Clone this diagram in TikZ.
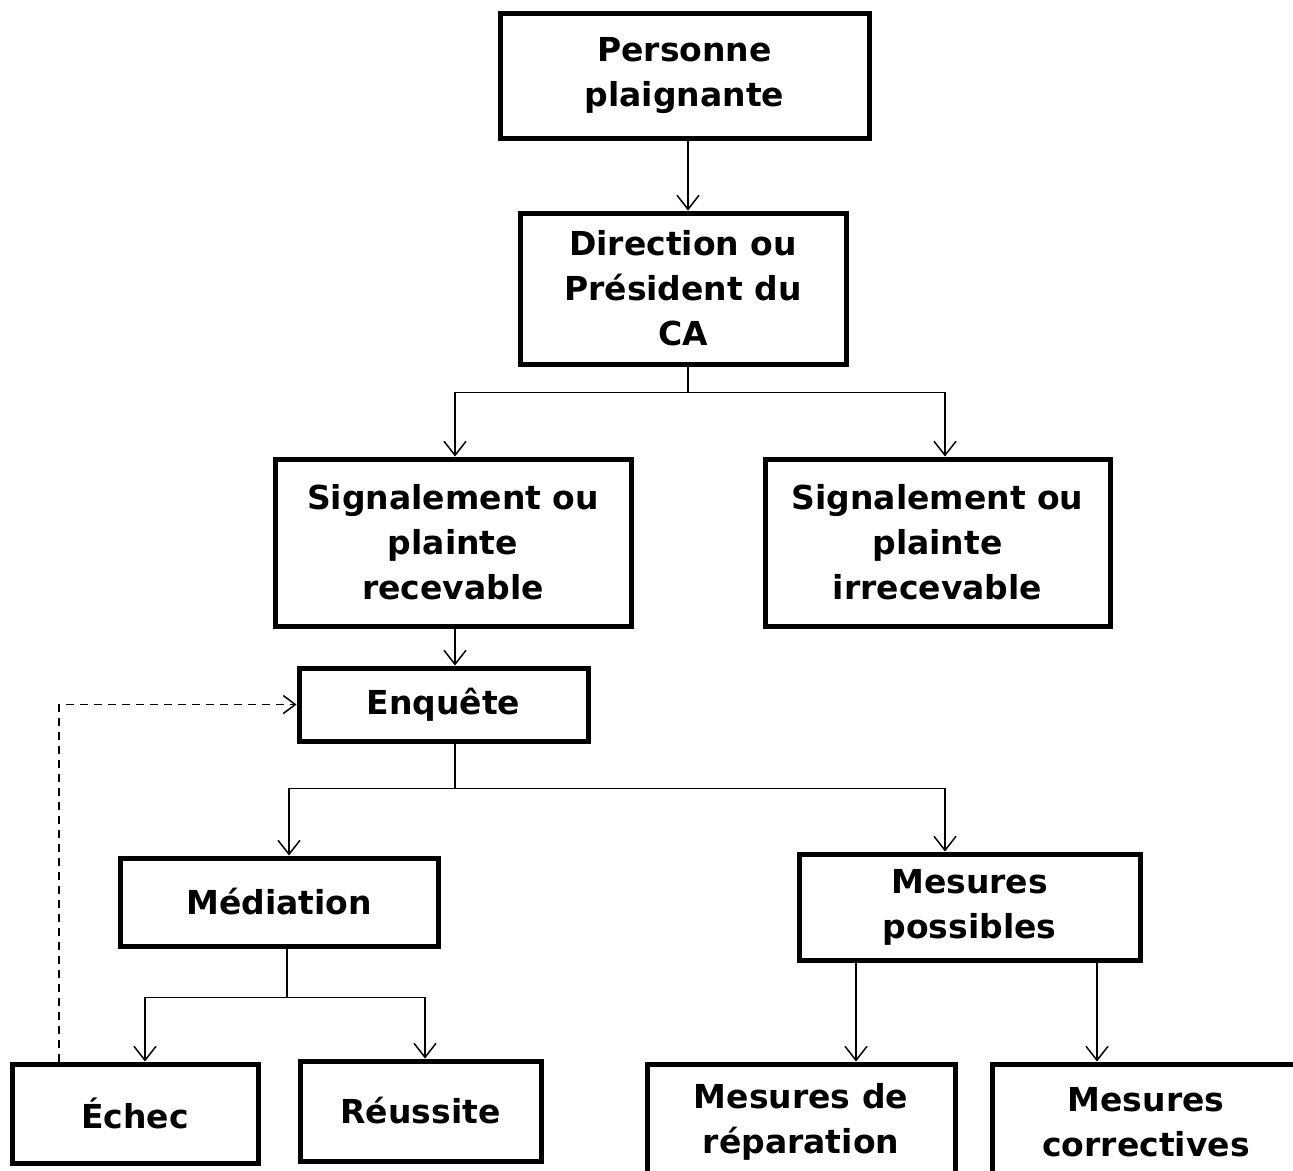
\documentclass[tikz,border=0pt]{standalone}
\usepackage{fontspec}
\setmainfont{DejaVu Sans}
\usetikzlibrary{arrows.meta,calc}
\begin{document}
\begin{tikzpicture}[x=1pt,y=-1pt,
  box/.style={draw,line width=5pt,rectangle,align=center,inner sep=0pt,
    font=\fontsize{33}{45}\selectfont\bfseries},
  conn/.style={line width=1.5pt},
  arr/.style={conn,-{Straight Barb[length=14pt,width=22pt,line width=1.5pt]}},
  fb/.style={conn,dash pattern=on 8pt off 6pt,-{Straight Barb[length=12pt,width=18pt,line width=1.5pt]}}]
\clip (0,0) rectangle (1293,1170);
\fill[white] (0,0) rectangle (1293,1170);
\node[box,minimum width=369pt,minimum height=125pt] (p) at (684.5,75.5) {Personne\\plaignante};
\node[box,minimum width=326pt,minimum height=151pt] (d) at (683,288.5) {Direction ou\\Président du\\CA};
\node[box,minimum width=356pt,minimum height=167pt] (rec) at (453,542.5) {Signalement ou\\plainte\\recevable};
\node[box,minimum width=345pt,minimum height=167pt] (irr) at (937.5,542.5) {Signalement ou\\plainte\\irrecevable};
\node[box,minimum width=289pt,minimum height=73pt] (enq) at (443.5,704.5) {Enquête};
\node[box,minimum width=318pt,minimum height=88pt] (med) at (279,902) {Médiation};
\node[box,minimum width=341pt,minimum height=106pt] (mp) at (969.5,907) {Mesures\\possibles};
\node[box,minimum width=246pt,minimum height=99pt] (ech) at (135,1113.5) {Échec};
\node[box,minimum width=241pt,minimum height=100pt] (reu) at (420.5,1111) {Réussite};
\node[box,minimum width=308pt,minimum height=116pt] (rep) at (801,1122) {Mesures de\\réparation};
\node[box,minimum width=308pt,minimum height=116pt] (cor) at (1146,1122) {Mesures\\correctives};
% connectors
\draw[arr] ([xshift=3.5pt]p.south) -- ([xshift=3.5pt]p.south |- d.north);
\draw[conn] ([xshift=5pt]d.south) -- ++(0,26) coordinate (dj);
\draw[arr] (dj) -| ([xshift=2pt]rec.north);
\draw[arr] (dj) -| ([xshift=7.5pt]irr.north);
\draw[arr] ([xshift=2pt]rec.south) -- ([xshift=2pt]rec.south |- enq.north);
\draw[conn] ([xshift=11.5pt]enq.south) -- ++(0,45) coordinate (ej);
\draw[arr] (ej) -| ([xshift=10pt]med.north);
\draw[arr] (ej) -| ([xshift=-24.5pt]mp.north);
\draw[conn] ([xshift=8pt]med.south) -- ++(0,49) coordinate (mj);
\draw[arr] (mj) -| ([xshift=10pt]ech.north);
\draw[arr] (mj) -| ([xshift=4.5pt]reu.north);
\draw[arr] ([xshift=-113.5pt]mp.south) -- ([xshift=-113.5pt]mp.south |- rep.north);
\draw[arr] ([xshift=127.5pt]mp.south) -- ([xshift=127.5pt]mp.south |- cor.north);
\draw[fb] ([xshift=-76pt]ech.north) |- (enq.west);
\end{tikzpicture}
\end{document}
